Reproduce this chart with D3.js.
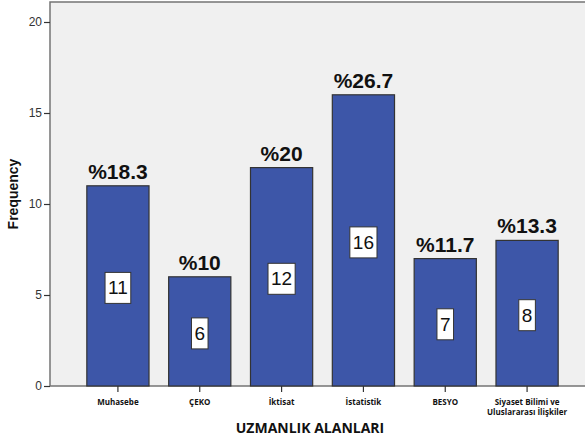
<!DOCTYPE html>
<html>
<head>
<meta charset="utf-8">
<script src="https://cdn.jsdelivr.net/npm/d3@7/dist/d3.min.js"></script>
<style>
  html, body { margin: 0; padding: 0; background: #ffffff; }
  svg { display: block; }
</style>
</head>
<body>
<svg id="chart" width="585" height="440"></svg>
<script>
// Specialisation areas and how many people are in each
const categories = ["Muhasebe", "ÇEKO", "İktisat", "İstatistik", "BESYO", "Siyaset Bilimi ve|Uluslararası İlişkiler"];
const counts = [11, 6, 12, 16, 7, 8];
const percents = ["18.3", "10", "20", "26.7", "11.7", "13.3"];
const yTicks = [0, 5, 10, 15, 20];

const svg = d3.select("#chart");
const plot = { left: 50, top: 2, right: 590, bottom: 386 };

const y = d3.scaleLinear().domain([0, 21]).range([plot.bottom, plot.bottom - 21 * 18.2]);
const x = d3.scaleBand()
  .domain(categories)
  .range([77, 568])
  .paddingInner(0.24)
  .paddingOuter(0.12);

// plot area
svg.append("rect")
  .attr("x", plot.left).attr("y", plot.top)
  .attr("width", plot.right - plot.left).attr("height", plot.bottom - plot.top)
  .attr("fill", "#f0f0f0")
  .attr("stroke", "#747474").attr("stroke-width", 1.5);

// y axis
const yAxis = svg.append("g")
  .attr("transform", `translate(${plot.left},0)`)
  .call(d3.axisLeft(y).tickValues(yTicks).tickSize(6).tickPadding(2));
yAxis.select(".domain").remove();
yAxis.selectAll(".tick line").attr("stroke", "#333").attr("stroke-width", 1.2);
yAxis.selectAll(".tick text")
  .attr("font-family", "Liberation Sans, Arial, sans-serif")
  .attr("font-size", 12).attr("fill", "#333");

// x axis ticks
const xAxis = svg.append("g")
  .attr("transform", `translate(0,${plot.bottom})`)
  .call(d3.axisBottom(x).tickSize(6).tickFormat(""));
xAxis.select(".domain").remove();
xAxis.selectAll(".tick line").attr("stroke", "#333").attr("stroke-width", 1.2);

// category labels (a "|" splits a label onto two lines)
const catLabels = svg.append("g");
categories.forEach(c => {
  const lines = c.split("|");
  const t = catLabels.append("text")
    .attr("x", x(c) + x.bandwidth() / 2)
    .attr("y", 405)
    .attr("text-anchor", "middle")
    .attr("font-family", "Open Sans, DejaVu Sans, sans-serif")
    .attr("font-weight", "bold")
    .attr("font-size", 8)
    .attr("fill", "#111");
  lines.forEach((ln, i) => {
    t.append("tspan")
      .attr("x", x(c) + x.bandwidth() / 2)
      .attr("dy", i === 0 ? 0 : 10)
      .text(ln);
  });
});

// bars
svg.append("g").selectAll("rect")
  .data(categories)
  .join("rect")
  .attr("x", d => x(d))
  .attr("y", (d, i) => y(counts[i]))
  .attr("width", x.bandwidth())
  .attr("height", (d, i) => y(0) - y(counts[i]))
  .attr("fill", "#3d56a8")
  .attr("stroke", "#333333")
  .attr("stroke-width", 1.2);

// percentage labels above bars
svg.append("g").selectAll("text")
  .data(categories)
  .join("text")
  .attr("x", d => x(d) + x.bandwidth() / 2)
  .attr("y", (d, i) => y(counts[i]) - 7)
  .attr("text-anchor", "middle")
  .attr("font-family", "Liberation Sans, Arial, sans-serif")
  .attr("font-weight", "bold")
  .attr("font-size", 21)
  .attr("fill", "#111")
  .text((d, i) => "%" + percents[i]);

// count boxes in the middle of each bar
const boxes = svg.append("g");
categories.forEach((c, i) => {
  const cx = x(c) + x.bandwidth() / 2;
  const cy = y(counts[i] / 2) + 2;
  const g = boxes.append("g");
  const txt = g.append("text")
    .attr("x", cx).attr("y", cy)
    .attr("text-anchor", "middle")
    .attr("dominant-baseline", "central")
    .attr("font-family", "Liberation Sans, Arial, sans-serif")
    .attr("font-size", 19)
    .attr("fill", "#111")
    .text(counts[i]);
  const w = txt.node().getComputedTextLength() + 6;
  g.insert("rect", "text")
    .attr("x", cx - w / 2).attr("y", cy - 15.5)
    .attr("width", w).attr("height", 31)
    .attr("fill", "#ffffff")
    .attr("stroke", "#333").attr("stroke-width", 1);
});

// axis titles
svg.append("text")
  .attr("transform", `translate(18,${(plot.top + plot.bottom) / 2}) rotate(-90)`)
  .attr("text-anchor", "middle")
  .attr("font-family", "Liberation Sans, Arial, sans-serif")
  .attr("font-weight", "bold")
  .attr("font-size", 14)
  .attr("fill", "#111")
  .text("Frequency");

svg.append("text")
  .attr("x", 310).attr("y", 433)
  .attr("text-anchor", "middle")
  .attr("font-family", "Open Sans, DejaVu Sans, sans-serif")
  .attr("font-weight", "bold")
  .attr("font-size", 14)
  .attr("letter-spacing", 0)
  .attr("fill", "#111")
  .text("UZMANLIK ALANLARI");
</script>
</body>
</html>
